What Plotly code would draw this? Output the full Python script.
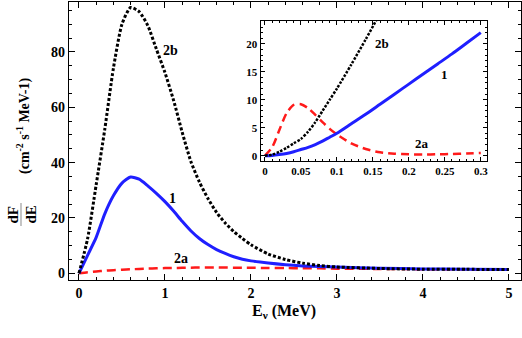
import plotly.graph_objects as go

# main panel
e_main = [0, 0.1, 0.2, 0.3, 0.4, 0.5, 0.6, 0.7, 0.8, 0.9, 1.0, 1.1, 1.2, 1.3, 1.4,
          1.5, 1.6, 1.7, 1.8, 1.9, 2.0, 2.2, 2.4, 2.6, 2.8, 3.0, 3.5, 4.0, 4.5, 5.0]
flux_1 = [0, 6.5, 13, 21.5, 28, 32.6, 34.8, 34.0, 31.6, 28.9, 25.9, 22.5, 18.8, 15.4, 12.6,
          10.4, 8.6, 7.2, 6.0, 5.1, 4.5, 3.7, 3.1, 2.7, 2.45, 2.25, 1.85, 1.6, 1.5, 1.4]
flux_2b = [0, 12.5, 32, 52, 74, 90, 96, 94.5, 89.5, 81, 72.5, 62.5, 51, 40.5, 33,
           27, 22, 18.2, 15.1, 12.6, 10.3, 7.0, 5.0, 3.7, 2.8, 2.3, 1.75, 1.5, 1.45, 1.4]
flux_2a = [0, 0.4, 0.7, 0.95, 1.15, 1.3, 1.45, 1.6, 1.7, 1.8, 1.9, 1.95, 2.0, 2.05, 2.1,
           2.1, 2.1, 2.08, 2.05, 2.02, 2.0, 1.95, 1.9, 1.85, 1.8, 1.7, 1.6, 1.5, 1.45, 1.4]

# inset (low energy)
e_inset = [0, 0.01, 0.02, 0.03, 0.04, 0.05, 0.06, 0.07, 0.08, 0.09, 0.1,
           0.12, 0.14, 0.16, 0.18, 0.2, 0.22, 0.24, 0.26, 0.28, 0.3]
inset_1 = [0, 0.05, 0.2, 0.4, 0.7, 1.1, 1.5, 2.0, 2.6, 3.3, 4.0,
           5.7, 7.4, 9.2, 11.0, 12.8, 14.6, 16.4, 18.2, 20.1, 22.0]
inset_2b = [0, 0.2, 0.7, 1.4, 2.2, 3.0, 4.3, 6.0, 8.0, 10.0, 12.0,
            16.3, 20.8, 25.5, 31, 37, 43, 49, 55, 61, 67]
inset_2a = [0, 1.5, 4.6, 7.6, 9.1, 9.2, 8.5, 7.3, 6.0, 4.8, 3.8,
            2.2, 1.2, 0.6, 0.35, 0.25, 0.2, 0.25, 0.3, 0.4, 0.5]

inset_ticks = [0, 0.05, 0.1, 0.15, 0.2, 0.25, 0.3]
inset_ticktext = ["0", "0.05", "0.1", "0.15", "0.2", "0.25", "0.3"]

BLUE = "#1f1fff"
RED = "#ff1a1a"
FONT = "Liberation Serif"

fig = go.Figure()

fig.add_trace(go.Scatter(x=e_main, y=flux_2a, mode="lines",
                         line=dict(color=RED, width=2.5, dash="9px,5px", shape="spline", smoothing=0.6)))
fig.add_trace(go.Scatter(x=e_main, y=flux_1, mode="lines",
                         line=dict(color=BLUE, width=3, shape="spline", smoothing=0.6)))
fig.add_trace(go.Scatter(x=e_main, y=flux_2b, mode="lines",
                         line=dict(color="black", width=3, dash="3px,2px", shape="spline", smoothing=0.6)))

fig.add_trace(go.Scatter(x=e_inset, y=inset_2a, mode="lines", xaxis="x2", yaxis="y2",
                         line=dict(color=RED, width=2.5, dash="8px,5px", shape="spline", smoothing=0.7)))
fig.add_trace(go.Scatter(x=e_inset, y=inset_1, mode="lines", xaxis="x2", yaxis="y2",
                         line=dict(color=BLUE, width=3, shape="spline", smoothing=0.7)))
fig.add_trace(go.Scatter(x=e_inset, y=inset_2b, mode="lines", xaxis="x2", yaxis="y2",
                         line=dict(color="black", width=2.5, dash="2.5px,1.5px", shape="spline", smoothing=0.7)))

axis_common = dict(showgrid=False, zeroline=False, showline=True, linecolor="black",
                   linewidth=1.2, mirror="ticks", ticks="inside", tickcolor="black", tickwidth=1)

fig.update_layout(
    template="simple_white",
    width=522, height=338,
    margin=dict(l=69, r=1, t=2, b=58),
    plot_bgcolor="white", paper_bgcolor="white",
    showlegend=False,
    font=dict(family=FONT, color="black"),
    xaxis=dict(range=[-0.116, 5.14], dtick=1, tick0=0, ticklen=6,
               tickfont=dict(size=14, family=FONT, weight="bold"),
               minor=dict(dtick=0.2, ticklen=3, ticks="inside", tickcolor="black"),
               **axis_common),
    yaxis=dict(range=[-2.4, 98], dtick=20, tick0=0, ticklen=6,
               tickfont=dict(size=14, family=FONT, weight="bold"),
               minor=dict(dtick=5, ticklen=3, ticks="inside", tickcolor="black"),
               **axis_common),
    xaxis2=dict(domain=[0.424, 0.925], anchor="y2", range=[-0.006, 0.3088],
                tickvals=inset_ticks, ticktext=inset_ticktext, ticklen=4,
                tickfont=dict(size=11, family=FONT, weight="bold"),
                minor=dict(dtick=0.01, tick0=0, ticklen=2, ticks="inside", tickcolor="black"),
                **axis_common),
    yaxis2=dict(domain=[0.428, 0.932], anchor="x2", range=[-0.95, 24.1],
                dtick=5, tick0=0, ticklen=4,
                tickfont=dict(size=11, family=FONT, weight="bold"),
                minor=dict(dtick=1, ticklen=2, ticks="inside", tickcolor="black"),
                **axis_common),
)

bold14 = dict(family=FONT, size=14, weight="bold", color="black")
bold12 = dict(family=FONT, size=13, weight="bold", color="black")

# curve labels
for x, y, t in [(1.06, 80.6, "2b"), (1.09, 27, "1"), (1.19, 5.2, "2a")]:
    fig.add_annotation(x=x, y=y, xref="x", yref="y", text=t, showarrow=False, font=bold14,
                       xanchor="center", yanchor="middle")
for x, y, t in [(0.163, 20.1, "2b"), (0.25, 14.5, "1"), (0.219, 2.2, "2a")]:
    fig.add_annotation(x=x, y=y, xref="x2", yref="y2", text=t, showarrow=False, font=bold12,
                       xanchor="center", yanchor="middle")

# axis titles
title_kw = dict(xref="paper", yref="paper", showarrow=False, xanchor="center", yanchor="middle")
fig.add_annotation(x=0.4757, y=-0.115, text="E<sub>ν</sub> (MeV)",
                   font=dict(family=FONT, size=16, weight="bold"), **title_kw)
fig.add_annotation(x=-0.0996, y=0.5576, textangle=-90,
                   text="(cm<sup>-2</sup> s<sup>-1</sup> MeV-1)",
                   font=dict(family=FONT, size=14, weight="bold"), **title_kw)
fig.add_annotation(x=-0.1228, y=0.2374, textangle=-90, text="dF",
                   font=dict(family=FONT, size=15, weight="bold"), **title_kw)
fig.add_annotation(x=-0.083, y=0.2374, textangle=-90, text="dE",
                   font=dict(family=FONT, size=15, weight="bold"), **title_kw)
fig.add_shape(type="line", xref="paper", yref="paper", x0=-0.1062, x1=-0.1062,
              y0=0.194, y1=0.277, line=dict(color="black", width=1.5))

fig.write_html("out.html", config={"displayModeBar": False},
               post_script="document.body.style.margin='0';")
